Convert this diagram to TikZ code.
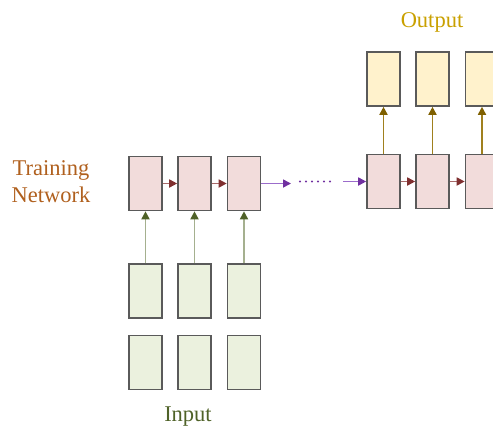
\documentclass[tikz,border=0pt]{standalone}
\usepackage{fontspec}
\setmainfont{Liberation Serif}
\usetikzlibrary{arrows.meta}
\definecolor{trainfill}{HTML}{F2DCDB}
\definecolor{outfill}{HTML}{FFF2CC}
\definecolor{infill}{HTML}{EBF1DE}
\definecolor{boxline}{HTML}{5A5A5A}
\definecolor{redline}{HTML}{A86A6A}
\definecolor{redhead}{HTML}{7F2F2F}
\definecolor{greenline}{HTML}{A5B08F}
\definecolor{greenhead}{HTML}{4F6228}
\definecolor{goldline}{HTML}{A0801E}
\definecolor{goldhead}{HTML}{7F6000}
\definecolor{purpline}{HTML}{9B6CCB}
\definecolor{purphead}{HTML}{7030A0}
\definecolor{traintext}{HTML}{B0601E}
\definecolor{outtext}{HTML}{C9A000}
\definecolor{intext}{HTML}{4F6228}
\tikzset{
  cell/.style={draw=boxline, line width=1.6pt, minimum width=33pt, minimum height=54pt, inner sep=0pt},
  tcell/.style={cell, fill=trainfill},
  ocell/.style={cell, fill=outfill},
  icell/.style={cell, fill=infill},
  lbl/.style={font=\fontsize{22.5}{27}\selectfont, inner sep=0pt},
  redarrow/.style={draw=redline, line width=1.7pt, -{Triangle[length=8pt,width=8pt,color=redhead]}},
  greenarrow/.style={draw=greenline, line width=1.7pt, -{Triangle[length=8pt,width=8pt,color=greenhead]}},
  goldarrow/.style={draw=goldline, line width=1.7pt, -{Triangle[length=8pt,width=8pt,color=goldhead]}},
  purparrow/.style={draw=purpline, line width=1.7pt, -{Triangle[length=8pt,width=8pt,color=purphead]}},
}
\begin{document}
\begin{tikzpicture}[x=1pt, y=-1pt]
\useasboundingbox (0,0) rectangle (493,429);
% training network, left
\node[tcell] (t1) at (145.5,183.5) {};
\node[tcell] (t2) at (194.5,183.5) {};
\node[tcell] (t3) at (244,183.5) {};
% training network, right
\node[tcell] (r1) at (383.5,181.5) {};
\node[tcell] (r2) at (432.5,181.5) {};
\node[tcell] (r3) at (482,181.5) {};
% outputs
\node[ocell] (o1) at (383.5,79) {};
\node[ocell] (o2) at (432.5,79) {};
\node[ocell] (o3) at (482,79) {};
% inputs
\node[icell] (a1) at (145.5,291) {};
\node[icell] (a2) at (194.5,291) {};
\node[icell] (a3) at (244,291) {};
\node[icell] (b1) at (145.5,362.5) {};
\node[icell] (b2) at (194.5,362.5) {};
\node[icell] (b3) at (244,362.5) {};
% recurrent arrows
\draw[redarrow] (t1) -- (t2);
\draw[redarrow] (t2) -- (t3);
\draw[redarrow] (r1) -- (r2);
\draw[redarrow] (r2) -- (r3);
% input arrows
\draw[greenarrow] (a1) -- (t1);
\draw[greenarrow] (a2) -- (t2);
\draw[greenarrow] (a3) -- (t3);
% output arrows
\draw[goldarrow] (r1) -- (o1);
\draw[goldarrow] (r2) -- (o2);
\draw[goldarrow] (r3) -- (o3);
% continuation
\coordinate (pend) at (291,183.5);
\coordinate (pstart) at (343,181.5);
\draw[purparrow] (t3) -- (pend);
\draw[purparrow] (pstart) -- (r1);
\foreach \x in {300,306,312,318,324,330}
  \fill[purphead] (\x,181.5) circle (1.2pt);
% labels
\node[lbl, text=outtext] (outlbl) at (432,22) {Output};
\node[lbl, text=intext] (inlbl) at (188,417) {Input};
\node[lbl, text=traintext, align=center] (trlbl) at (51,182) {Training\\Network};
\end{tikzpicture}
\end{document}
